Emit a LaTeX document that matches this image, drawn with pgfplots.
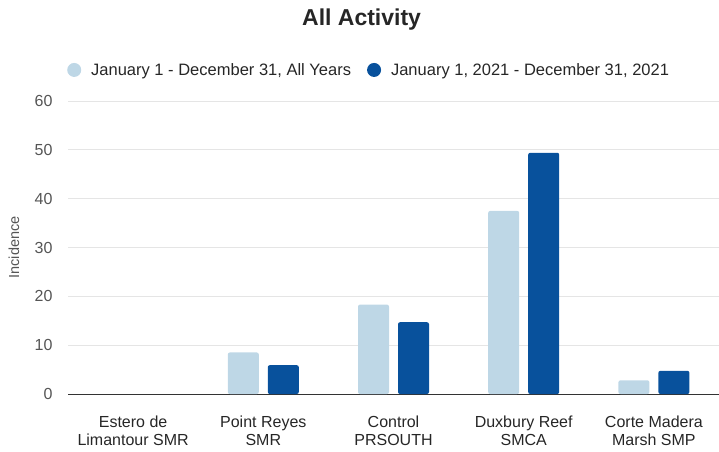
\documentclass[border=0pt]{standalone}
\usepackage{fontspec}
\setmainfont{Liberation Sans}
\usepackage{pgfplots}
\pgfplotsset{compat=1.18}
\definecolor{lightbar}{RGB}{190,215,230}
\definecolor{darkbar}{RGB}{8,81,156}
\definecolor{gridc}{RGB}{229,229,229}
\definecolor{tickc}{RGB}{85,85,85}
\begin{document}
\begin{tikzpicture}
\path[use as bounding box] (-68pt,-57pt) rectangle (651pt,394pt);
\begin{axis}[
  at={(0pt,0pt)}, anchor=south west,
  scale only axis, width=651pt, height=293pt,
  ybar=9pt, bar width=31pt,
  xmin=-0.5, xmax=4.5, ymin=0, ymax=60,
  xtick={0,1,2,3,4},
  xticklabels={{Estero de\\Limantour SMR},{Point Reyes\\SMR},{Control\\PRSOUTH},{Duxbury Reef\\SMCA},{Corte Madera\\Marsh SMP}},
  xticklabel style={align=center, font=\fontsize{16pt}{18pt}\selectfont, text=black!85, yshift=-18pt},
  ytick={0,10,20,30,40,50,60},
  yticklabel style={font=\fontsize{16pt}{18pt}\selectfont, text=tickc, xshift=-12pt},
  /pgf/number format/assume math mode=true,
  ymajorgrids, grid style={gridc, line width=0.8pt},
  axis x line*=bottom, axis y line*=left,
  y axis line style={draw=none},
  x axis line style={black!80, line width=1pt},
  major tick length=0pt,
  tick style={draw=none},
  ylabel={Incidence},
  ylabel style={font=\fontsize{14.5pt}{16pt}\selectfont, text=tickc, at={(axis description cs:-0.083,0.5)}, anchor=center},
  legend columns=2,
  legend style={at={(0.461,1.106)}, anchor=center, draw=none, fill=none,
     font=\fontsize{16.5pt}{18pt}\selectfont, text=black!85,
     nodes={inner xsep=0pt},
     /tikz/every even column/.append style={column sep=16pt}},
  legend image code/.code={\fill[#1] (0pt,0pt) circle (7pt); \path (17pt,0pt) (-7pt,0pt);},
  title={All Activity},
  title style={font=\bfseries\fontsize{23pt}{25pt}\selectfont, text=black!85, at={(0.451,1.256)}, anchor=center},
  clip=false,
]
\addplot[fill=lightbar, draw=none, rounded corners=2pt] coordinates {(1,8.5) (2,18.3) (3,37.5) (4,2.8)};
\addplot[fill=darkbar, draw=none, rounded corners=2pt] coordinates {(1,5.9) (2,14.7) (3,49.4) (4,4.75)};
\legend{January 1 - December 31{,} All Years, January 1{,} 2021 - December 31{,} 2021}
\end{axis}
\end{tikzpicture}
\end{document}
